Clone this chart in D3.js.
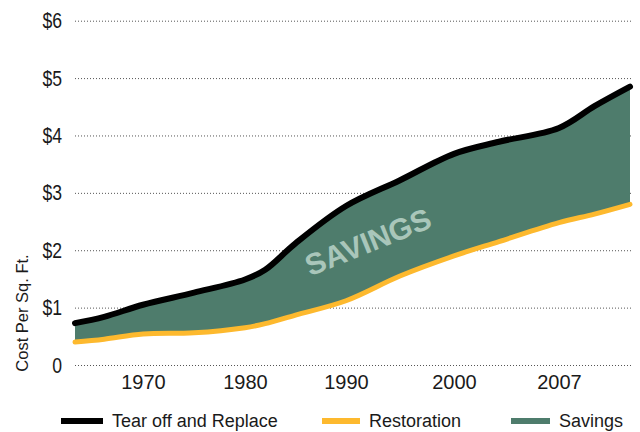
<!DOCTYPE html>
<html>
<head>
<meta charset="utf-8">
<script src="https://cdn.jsdelivr.net/npm/d3@7"></script>
<style>
  body { margin: 0; background: #fff; }
  svg text { fill: #1a1a1a; }
</style>
</head>
<body>
<div id="chart"></div>
<script>
// values
const years = [1963, 1966, 1970, 1975, 1980, 1982, 1985, 1990, 1995, 2000, 2003, 2007, 2010, 2013];
const tearOff = [0.73, 0.84, 1.05, 1.26, 1.49, 1.66, 2.12, 2.77, 3.22, 3.68, 3.89, 4.13, 4.51, 4.85];
const restoration = [0.40, 0.45, 0.54, 0.56, 0.65, 0.72, 0.87, 1.12, 1.55, 1.90, 2.15, 2.48, 2.63, 2.80];
const tickYears = [1970, 1980, 1990, 2000, 2007];
const yTicks = [0, 1, 2, 3, 4, 5, 6];
const seriesNames = ["Tear off and Replace", "Restoration", "Savings"];

const width = 640;
const height = 432;
const colors = { tear: "#000000", rest: "#FDB92E", save: "#4E7C6C", label: "#A9C6BA" };

const svg = d3.select("#chart")
  .append("svg")
  .attr("width", width)
  .attr("height", height)
  .style("font-family", "'Liberation Sans', Arial, sans-serif");

// the year axis in the original isn't linear, so map it piecewise
const x = d3.scaleLinear()
  .domain([1963, 1970, 1980, 1990, 2000, 2007, 2013])
  .range([75, 143, 245, 346, 454, 559, 630]);

const y = d3.scaleLinear()
  .domain([0, 6])
  .range([365, 20.7]);

const data = years.map((yr, i) => ({ year: yr, top: tearOff[i], bottom: restoration[i] }));
const curve = d3.curveCatmullRom.alpha(0.5);

// gridlines + y labels
const yAxis = svg.append("g")
  .attr("transform", "translate(75,0)")
  .call(d3.axisLeft(y)
    .tickValues(yTicks)
    .tickSize(-(632 - 75))
    .tickPadding(13)
    .tickFormat(d => d === 0 ? "0" : "$" + d));
yAxis.select(".domain").remove();
yAxis.selectAll("line")
  .attr("stroke", "#555")
  .attr("stroke-width", 1)
  .attr("stroke-dasharray", "1,2");
yAxis.selectAll("text")
  .style("font-size", "22px")
  .attr("fill", "#1a1a1a")
  .each(function() {
    // squeeze to look like the condensed face in the original
    const w = this.getComputedTextLength();
    d3.select(this).attr("textLength", w * 0.8).attr("lengthAdjust", "spacingAndGlyphs");
  });

// x labels
const xAxis = svg.append("g")
  .attr("transform", "translate(0,365)")
  .call(d3.axisBottom(x)
    .tickValues(tickYears)
    .tickSize(0)
    .tickPadding(10)
    .tickFormat(d3.format("d")));
xAxis.select(".domain").remove();
xAxis.selectAll("text")
  .style("font-size", "20px")
  .attr("fill", "#1a1a1a");

// savings band
const area = d3.area()
  .x(d => x(d.year))
  .y0(d => y(d.bottom))
  .y1(d => y(d.top))
  .curve(curve);

svg.append("path")
  .datum(data)
  .attr("d", area)
  .attr("fill", colors.save);

const lineTop = d3.line().x(d => x(d.year)).y(d => y(d.top)).curve(curve);
const lineBottom = d3.line().x(d => x(d.year)).y(d => y(d.bottom)).curve(curve);

svg.append("path")
  .datum(data)
  .attr("d", lineBottom)
  .attr("fill", "none")
  .attr("stroke", colors.rest)
  .attr("stroke-width", 5)
  .attr("stroke-linecap", "round");

svg.append("path")
  .datum(data)
  .attr("d", lineTop)
  .attr("fill", "none")
  .attr("stroke", colors.tear)
  .attr("stroke-width", 6)
  .attr("stroke-linecap", "round");

// label in the band
svg.append("text")
  .attr("transform", "translate(368,242) rotate(-22)")
  .attr("text-anchor", "middle")
  .attr("dominant-baseline", "central")
  .style("font-size", "30px")
  .style("font-weight", "bold")
  .style("fill", colors.label)
  .text("SAVINGS");

// y title
svg.append("text")
  .attr("transform", "translate(22,313) rotate(-90)")
  .attr("text-anchor", "middle")
  .attr("dominant-baseline", "central")
  .style("font-size", "16.5px")
  .text("Cost Per Sq. Ft.");

// legend
const legendItems = [
  { name: seriesNames[0], color: colors.tear, x0: 61, x1: 103 },
  { name: seriesNames[1], color: colors.rest, x0: 322, x1: 360 },
  { name: seriesNames[2], color: colors.save, x0: 511, x1: 550 }
];

const legend = svg.append("g").attr("transform", "translate(0,421)");
legend.selectAll("line")
  .data(legendItems)
  .join("line")
  .attr("x1", d => d.x0)
  .attr("x2", d => d.x1)
  .attr("y1", 0)
  .attr("y2", 0)
  .attr("stroke", d => d.color)
  .attr("stroke-width", 6);
legend.selectAll("text")
  .data(legendItems)
  .join("text")
  .attr("x", d => d.x1 + 9)
  .attr("y", 0)
  .attr("dominant-baseline", "central")
  .style("font-size", "18px")
  .text(d => d.name);
</script>
</body>
</html>
